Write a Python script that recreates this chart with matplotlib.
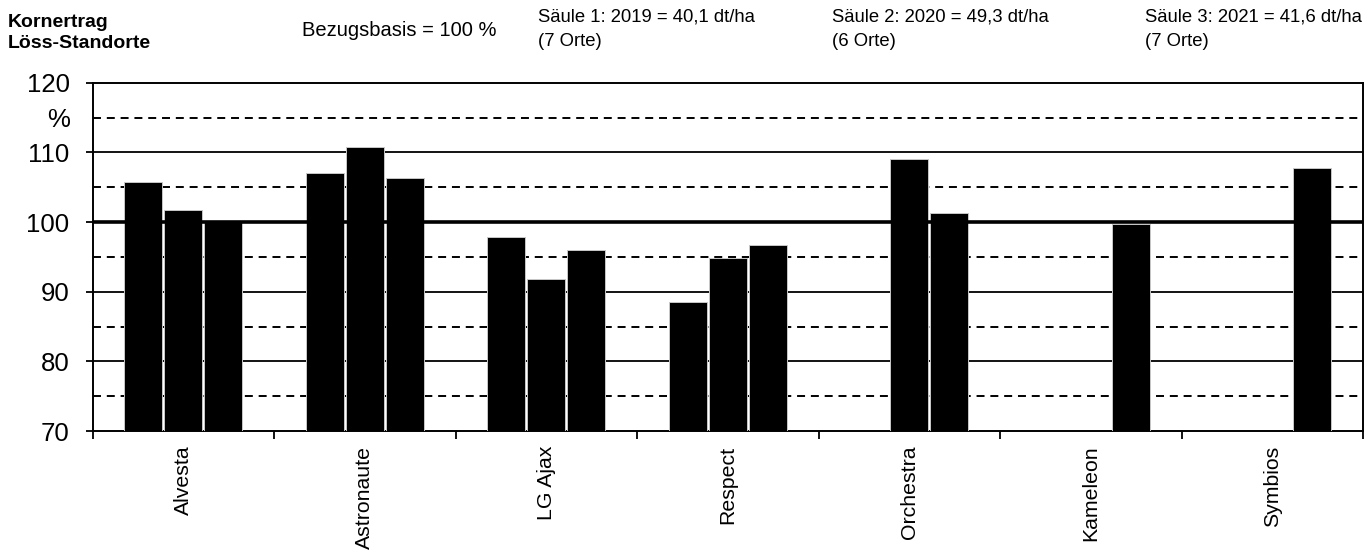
import numpy as np
import matplotlib
matplotlib.use("Agg")
import matplotlib.pyplot as plt

plt.rcParams['font.family'] = ['Liberation Sans', 'DejaVu Sans']

# relative Kornertraege in % (Bezugsbasis = 100 %)
sorten = ['Alvesta', 'Astronaute', 'LG Ajax', 'Respect', 'Orchestra', 'Kameleon', 'Symbios']
ertrag_2019 = [105.7, 107.1, 97.8, 88.5, np.nan, np.nan, np.nan]
ertrag_2020 = [101.7, 110.7, 91.8, 94.9, 109.1, np.nan, np.nan]
ertrag_2021 = [100.0, 106.3, 96.0, 96.7, 101.3, 99.7, 107.7]

W, H = 1366, 554
fig = plt.figure(figsize=(W/100, H/100), dpi=100)
ax = fig.add_axes([92.5/W, (H-431)/H, (1363-92.5)/W, (431-82.7)/H])

x = np.arange(len(sorten))
abst = 0.2206
breite = 0.21

# Gitterlinien
for y in [80, 90, 110]:
    ax.axhline(y, color='black', lw=1.3, zorder=1)
for y in [75, 85, 95, 105, 115]:
    ax.axhline(y, color='black', lw=1.4, ls=(0, (4.1, 3.0)), zorder=1)
ax.axhline(100, color='black', lw=2.6, zorder=4)

for i, werte in enumerate([ertrag_2019, ertrag_2020, ertrag_2021]):
    ax.bar(x + (i-1)*abst, np.array(werte) - 70, bottom=70, width=breite,
           color='black', edgecolor='#c8c8c8', linewidth=0.7, zorder=3)

ax.set_xlim(-0.5, len(sorten)-0.5)
ax.set_ylim(70, 120)

ax.set_yticks(np.arange(70, 121, 10))
ax.set_yticks([115], minor=True)
ax.set_yticklabels(['%'], minor=True)
ax.tick_params(axis='y', which='major', length=5, width=1.3, pad=11.5, labelsize=18.5)
ax.tick_params(axis='y', which='minor', length=0, pad=16.5, labelsize=18.5)

ax.set_xticks(np.arange(len(sorten)+1) - 0.5)
ax.set_xticklabels([])
ax.set_xticks(x, minor=True)
ax.set_xticklabels(sorten, minor=True, rotation=90)
ax.tick_params(axis='x', which='major', length=6, width=1.3)
ax.tick_params(axis='x', which='minor', length=0, pad=10.5, labelsize=15.3)

for s in ax.spines.values():
    s.set_linewidth(1.4)

fs = 14.5
fig.text(8/W, 1-27/H, 'Kornertrag', fontsize=14, fontweight='bold', va='baseline')
fig.text(8/W, 1-48/H, 'Löss-Standorte', fontsize=14, fontweight='bold', va='baseline')
fig.text(302/W, 1-36/H, 'Bezugsbasis = 100 %', fontsize=fs, va='baseline')

fs2 = 13.3
fig.text(538/W, 1-22/H, 'Säule 1: 2019 = 40,1 dt/ha', fontsize=fs2, va='baseline')
fig.text(538/W, 1-46/H, '(7 Orte)', fontsize=fs2, va='baseline')
fig.text(832/W, 1-22/H, 'Säule 2: 2020 = 49,3 dt/ha', fontsize=fs2, va='baseline')
fig.text(832/W, 1-46/H, '(6 Orte)', fontsize=fs2, va='baseline')
t3 = fig.text(1362/W, 1-22/H, 'Säule 3: 2021 = 41,6 dt/ha', fontsize=fs2,
              va='baseline', ha='right')
fig.canvas.draw()
x3 = t3.get_window_extent().x0
fig.text(x3/W, 1-46/H, '(7 Orte)', fontsize=fs2, va='baseline')

fig.savefig('out.png', dpi=100)
